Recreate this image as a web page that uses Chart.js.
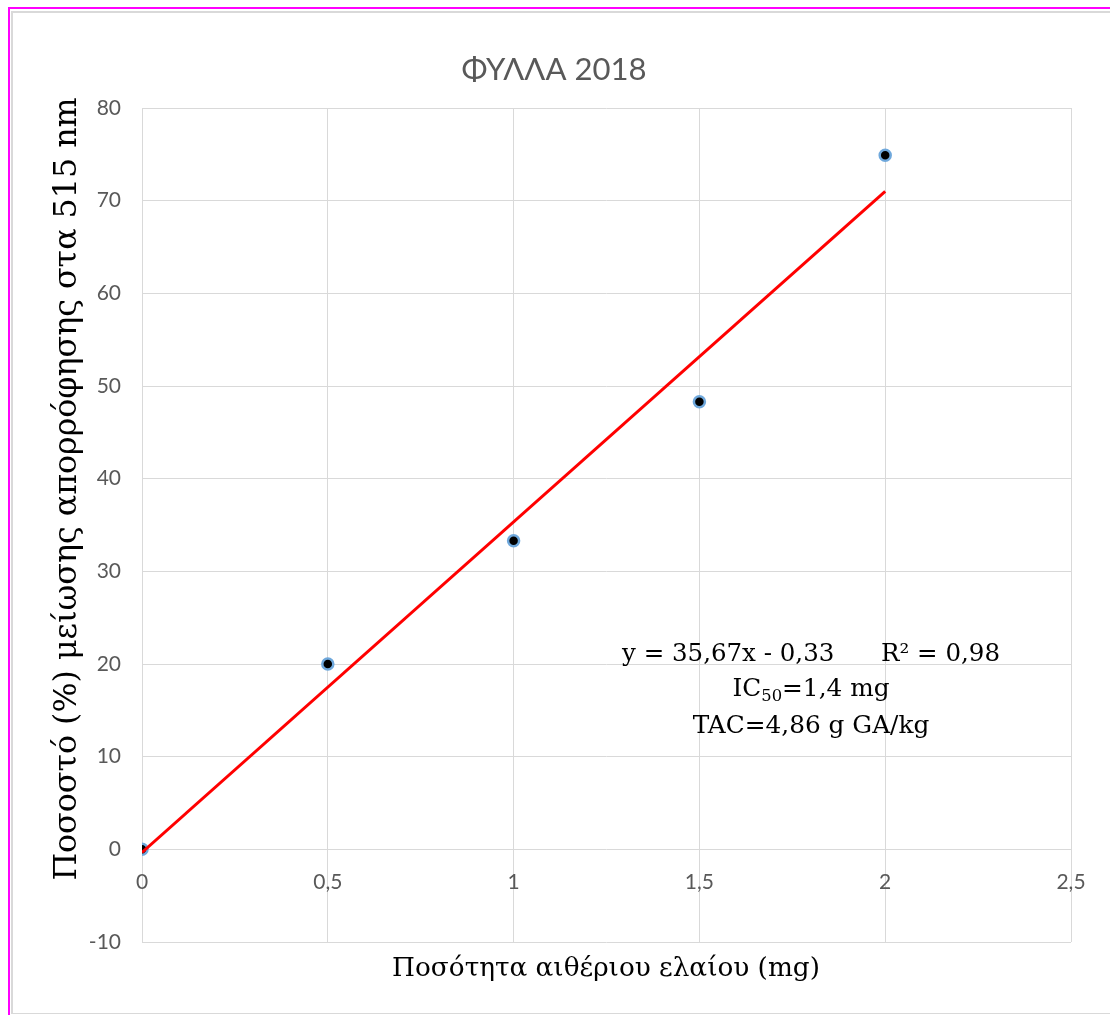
<!DOCTYPE html>
<html>
<head>
<meta charset="utf-8">
<title>ΦΥΛΛΑ 2018</title>
<script src="https://cdn.jsdelivr.net/npm/chart.js@4.4.1/dist/chart.umd.min.js"></script>
<style>
  html, body { margin: 0; padding: 0; background: #ffffff; }
  #wrap { position: relative; width: 1110px; height: 1015px; overflow: hidden; }
  #frameOuter { position: absolute; left: 8px; top: 7px; right: 0; bottom: 0;
    border-top: 2px solid #ff00ff; border-left: 2px solid #ff00ff; }
  #frameInner { position: absolute; left: 11px; top: 11px; right: 0; height: 1000px;
    border-top: 2px solid #d9d9d9; border-left: 2px solid #d9d9d9; border-bottom: 1px solid #d9d9d9; }
  #chart { position: absolute; left: 0; top: 0; }
</style>
</head>
<body>
<div id="wrap">
  <div id="frameOuter"></div>
  <div id="frameInner"></div>
  <canvas id="chart" width="1110" height="1015"></canvas>
</div>
<script>
// Measured doses (mg) and absorbance reduction (%) at 515 nm
const doseMg = [0, 0.5, 1, 1.5, 2];
const reductionPct = [0, 20, 33.3, 48.3, 74.9];

// Linear trendline as stated in the equation label
const trendSlope = 35.67;
const trendIntercept = -0.33;
const trendDoseRange = [0, 2];

// Axis ticks
const xTickValues = [0, 0.5, 1, 1.5, 2, 2.5];
const yTickValues = [-10, 0, 10, 20, 30, 40, 50, 60, 70, 80];

// Texts
const chartTitle = 'ΦΥΛΛΑ 2018';
const xAxisTitle = 'Ποσότητα αιθέριου ελαίου (mg)';
const yAxisTitle = 'Ποσοστό (%) μείωσης απορρόφησης στα 515 nm';
const equationText = 'y = 35,67x - 0,33      R² = 0,98';
const ic50Parts = ['IC', '50', '=1,4 mg'];
const tacText = 'TAC=4,86 g GA/kg';

const decimalComma = v => String(v).replace('.', ',');

const scatterPoints = doseMg.map((x, i) => ({ x, y: reductionPct[i] }));
const trendPoints = trendDoseRange.map(x => ({ x, y: trendSlope * x + trendIntercept }));

const TICK_FONT = { family: 'Lato, "Open Sans", sans-serif', size: 21 };
const SANS = 'Lato, "Open Sans", sans-serif';
const SERIF = '"DejaVu Serif", "Liberation Serif", serif';

// font size that makes a text span the given width
function sizeForWidth(ctx, text, family, width) {
  ctx.font = '100px ' + family;
  return 100 * width / ctx.measureText(text).width;
}

const textPlugin = {
  id: 'chartTexts',
  afterDraw(chart) {
    const { ctx } = chart;
    ctx.save();
    ctx.textAlign = 'center';
    ctx.textBaseline = 'middle';

    // Title
    ctx.fillStyle = '#595959';
    ctx.font = sizeForWidth(ctx, chartTitle, SANS, 185).toFixed(1) + 'px ' + SANS;
    ctx.fillText(chartTitle, 554, 70);

    // Axis titles
    ctx.fillStyle = '#000000';
    ctx.font = sizeForWidth(ctx, xAxisTitle, SERIF, 428).toFixed(1) + 'px ' + SERIF;
    ctx.fillText(xAxisTitle, 606, 969);
    ctx.save();
    ctx.font = sizeForWidth(ctx, yAxisTitle, SERIF, 783).toFixed(1) + 'px ' + SERIF;
    ctx.translate(68, 489);
    ctx.rotate(-Math.PI / 2);
    ctx.fillText(yAxisTitle, 0, 0);
    ctx.restore();

    // Equation block
    const cx = 811;
    ctx.font = sizeForWidth(ctx, equationText, SERIF, 378).toFixed(1) + 'px ' + SERIF;
    ctx.fillText(equationText, cx, 655);
    const blockSize = sizeForWidth(ctx, tacText, SERIF, 237);
    ctx.font = blockSize.toFixed(1) + 'px ' + SERIF;
    ctx.fillText(tacText, cx, 727);

    // IC50 with subscript
    const bigFont = blockSize.toFixed(1) + 'px ' + SERIF;
    const smallFont = (blockSize * 0.66).toFixed(1) + 'px ' + SERIF;
    ctx.font = bigFont;
    const w1 = ctx.measureText(ic50Parts[0]).width;
    const w3 = ctx.measureText(ic50Parts[2]).width;
    ctx.font = smallFont;
    const w2 = ctx.measureText(ic50Parts[1]).width;
    let x = cx - (w1 + w2 + w3) / 2;
    ctx.textAlign = 'left';
    ctx.font = bigFont;
    ctx.fillText(ic50Parts[0], x, 690);
    x += w1;
    ctx.font = smallFont;
    ctx.fillText(ic50Parts[1], x, 697);
    x += w2;
    ctx.font = bigFont;
    ctx.fillText(ic50Parts[2], x, 690);

    ctx.restore();
  }
};

new Chart(document.getElementById('chart'), {
  type: 'scatter',
  data: {
    datasets: [
      {
        type: 'line',
        label: 'Τάση',
        data: trendPoints,
        borderColor: '#ff0000',
        borderWidth: 3,
        pointRadius: 0,
        fill: false,
        order: 0
      },
      {
        label: 'Μετρήσεις',
        data: scatterPoints,
        pointRadius: 5.5,
        pointBorderWidth: 2.5,
        pointBackgroundColor: '#000000',
        pointBorderColor: '#6fa8dc',
        order: 1
      }
    ]
  },
  options: {
    responsive: false,
    animation: false,
    events: [],
    layout: { padding: { top: 108, right: 39, bottom: 73, left: 0 } },
    plugins: {
      legend: { display: false },
      tooltip: { enabled: false },
      title: { display: false }
    },
    scales: {
      x: {
        type: 'linear',
        position: { y: 0 },
        min: 0,
        max: 2.5,
        afterBuildTicks: s => { s.ticks = xTickValues.map(v => ({ value: v })); },
        grid: { color: '#d9d9d9', lineWidth: 1, drawTicks: false },
        border: { display: false },
        ticks: {
          color: '#595959',
          font: TICK_FONT,
          padding: 20,
          maxRotation: 0,
          callback: v => decimalComma(v)
        }
      },
      y: {
        type: 'linear',
        position: 'left',
        min: -10,
        max: 80,
        afterBuildTicks: s => { s.ticks = yTickValues.map(v => ({ value: v })); },
        afterFit: s => { s.width = 142; },
        grid: { color: '#d9d9d9', lineWidth: 1, drawTicks: false },
        border: { display: false },
        ticks: {
          color: '#595959',
          font: TICK_FONT,
          padding: 21,
          callback: v => decimalComma(v)
        }
      }
    }
  },
  plugins: [textPlugin]
});
</script>
</body>
</html>
